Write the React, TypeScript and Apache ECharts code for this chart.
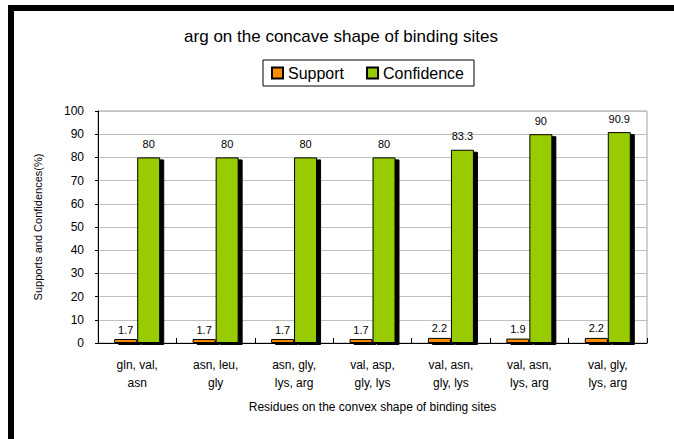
import React, { useEffect, useRef } from "react";
import * as echarts from "echarts";

const categories = [
  "gln, val,\nasn",
  "asn, leu,\ngly",
  "asn, gly,\nlys, arg",
  "val, asp,\ngly, lys",
  "val, asn,\ngly, lys",
  "val, asn,\nlys, arg",
  "val, gly,\nlys, arg",
];
const supportValues = [1.7, 1.7, 1.7, 1.7, 2.2, 1.9, 2.2];
const confidenceValues = [80, 80, 80, 80, 83.3, 90, 90.9];
const seriesNames = ["Support", "Confidence"];
const titleText = "arg on the concave shape of binding sites";
const yAxisName = "Supports and Confidences(%)";
const xAxisName = "Residues on the convex shape of binding sites";

const FONT = "Arial, 'Liberation Sans', sans-serif";

export default function App() {
  const ref = useRef<HTMLDivElement>(null);
  useEffect(() => {
    if (!ref.current) return;
    const chart = echarts.init(ref.current, null, { renderer: "svg" });
    const barStyle = (color: string) => ({
      color,
      borderColor: "#000",
      borderWidth: 1,
      shadowColor: "#000",
      shadowBlur: 0,
      shadowOffsetX: 4,
      shadowOffsetY: 2,
    });
    chart.setOption({
      animation: false,
      backgroundColor: "#fff",
      textStyle: { fontFamily: FONT },
      title: {
        text: titleText,
        left: 336,
        top: 23,
        textAlign: "center",
        textStyle: { fontSize: 17, fontWeight: "normal", color: "#000", fontFamily: FONT },
      },
      legend: {
        data: seriesNames,
        left: 263,
        top: 60,
        padding: [5, 10, 5, 8],
        borderColor: "#000",
        borderWidth: 1,
        itemWidth: 11,
        itemHeight: 11,
        itemGap: 22,
        icon: "rect",
        textStyle: { fontSize: 16, color: "#000", fontFamily: FONT },
      },
      grid: { left: 98, right: 27, top: 111, bottom: 96, show: true, borderColor: "#a0a0a0", borderWidth: 1 },
      xAxis: {
        type: "category",
        data: categories,
        name: xAxisName,
        nameLocation: "middle",
        nameGap: 58,
        nameTextStyle: { fontSize: 12, color: "#000", fontFamily: FONT },
        axisLine: { lineStyle: { color: "#000", width: 1 } },
        axisTick: { show: true, inside: true, length: 5, lineStyle: { color: "#000" } },
        axisLabel: { fontSize: 12, color: "#000", lineHeight: 18, margin: 13, fontFamily: FONT, interval: 0 },
      },
      yAxis: {
        type: "value",
        min: 0,
        max: 100,
        interval: 10,
        name: yAxisName,
        nameLocation: "middle",
        nameGap: 55,
        nameRotate: 90,
        nameTextStyle: { fontSize: 11, color: "#000", fontFamily: FONT },
        axisLine: { show: true, lineStyle: { color: "#000", width: 1 } },
        axisTick: { show: true, length: 3, lineStyle: { color: "#000" } },
        axisLabel: { fontSize: 12, color: "#000", margin: 14, fontFamily: FONT },
        splitLine: { show: true, lineStyle: { color: "#c0c0c0", width: 1 } },
      },
      series: [
        {
          name: seriesNames[0],
          type: "bar",
          data: supportValues,
          barWidth: 23,
          barGap: "0%",
          itemStyle: barStyle("#FF8C00"),
          label: { show: true, position: "top", fontSize: 11, color: "#000", distance: 4, fontFamily: FONT },
        },
        {
          name: seriesNames[1],
          type: "bar",
          data: confidenceValues,
          barWidth: 23,
          barGap: "0%",
          itemStyle: barStyle("#99CC00"),
          label: { show: true, position: "top", fontSize: 11, color: "#000", distance: 8, fontFamily: FONT },
        },
      ],
      graphic: [
        { type: "rect", left: 8, top: 5, shape: { width: 6, height: 434 }, style: { fill: "#000" } },
        { type: "rect", left: 8, top: 5, shape: { width: 666, height: 6 }, style: { fill: "#000" } },
      ],
    });
    return () => chart.dispose();
  }, []);
  return (
    <div
      ref={ref}
      style={{ position: "fixed", left: 0, top: 0, width: 674, height: 439 }}
    />
  );
}
